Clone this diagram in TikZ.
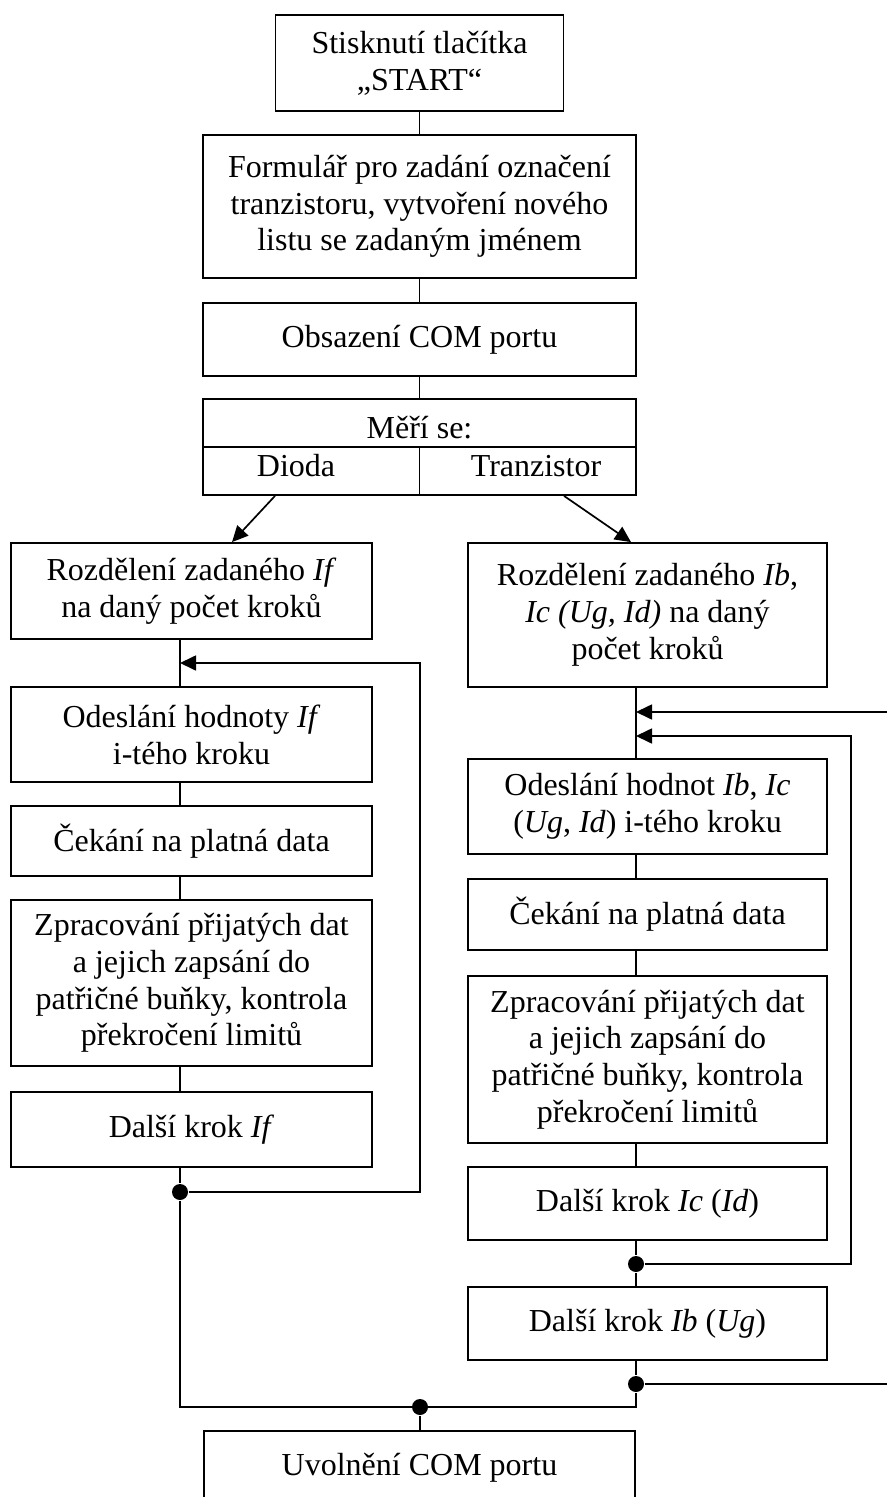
\documentclass[tikz,border=0pt]{standalone}
\usepackage{fontspec}
\setmainfont{Liberation Serif}
\usetikzlibrary{arrows.meta}

\begin{document}
\begin{tikzpicture}[x=0.5pt,y=-0.5pt,line width=0.85pt,>={Triangle[length=8pt,width=7.5pt]},
  blok/.style={draw,line width=0.9pt,align=center,inner sep=0pt,font=\fontsize{16}{18.4}\selectfont},
  popis/.style={inner sep=0pt,font=\fontsize{16}{18.4}\selectfont},
  uzel/.style={circle,fill,inner sep=0pt,minimum size=8pt}]
  \useasboundingbox (0,0) rectangle (887,1497);
  \clip (0,0) rectangle (887,1497);
  % spolecny zacatek
  \node[blok,minimum width=144pt,minimum height=48pt] (start) at (419.5,63) {Stisknutí tlačítka\\„START“};
  \node[blok,minimum width=216.5pt,minimum height=71.5pt] (form) at (419.5,206.5) {Formulář pro zadání označení\\tranzistoru, vytvoření nového\\listu se zadaným jménem};
  \node[blok,minimum width=216.5pt,minimum height=36.5pt] (obs) at (419.5,339.5) {Obsazení COM portu};
  \node[blok,minimum width=216.5pt,minimum height=48pt] (meri) at (419.5,447) {};
  \node[popis,anchor=base] (meriT) at (419.5,438) {Měří se:};
  \node[popis,anchor=base] (dioda) at (296,476) {Dioda};
  \node[popis,anchor=base] (tranz) at (536,476) {Tranzistor};
  \draw (start.south) -- (form.north);
  \draw (form.south) -- (obs.north);
  \draw (obs.south) -- (meri.north);
  \draw (meri.west) -- (meri.east);
  \draw (meri.center) -- (meri.south);
  % vetev dioda
  \node[blok,minimum width=180.5pt,minimum height=48pt] (rozdL) at (191.5,591) {Rozdělení zadaného \textit{If}\\na daný počet kroků};
  \node[blok,minimum width=180.5pt,minimum height=47.5pt] (odeslL) at (191.5,734.5) {Odeslání hodnoty \textit{If}\\i-tého kroku};
  \node[blok,minimum width=180.5pt,minimum height=35pt] (cekL) at (191.5,841) {Čekání na platná data};
  \node[blok,minimum width=180.5pt,minimum height=83pt] (zpracL) at (191.5,983) {Zpracování přijatých dat\\a jejich zapsání do\\patřičné buňky, kontrola\\překročení limitů};
  \node[blok,minimum width=180.5pt,minimum height=37.5pt] (dalsiL) at (191.5,1129.5) {Další krok \textit{If}};
  \coordinate (osL) at (180,0);
  \coordinate (vstupL) at (180,663);
  \node[uzel] (bodL) at (180,1192) {};
  \draw[->] (meri.south -| 275,0) -- (rozdL.north -| 232,0);
  \draw (rozdL.south -| osL) -- (odeslL.north -| osL);
  \draw (odeslL.south -| osL) -- (cekL.north -| osL);
  \draw (cekL.south -| osL) -- (zpracL.north -| osL);
  \draw (zpracL.south -| osL) -- (dalsiL.north -| osL);
  \draw (dalsiL.south -| osL) -- (bodL);
  \draw[->] (bodL) -- ++(240,0) |- (vstupL);
  % vetev tranzistor
  \node[blok,minimum width=179.5pt,minimum height=72pt] (rozdP) at (647.5,615) {Rozdělení zadaného \textit{Ib},\\\textit{Ic (Ug, Id)} na daný\\počet kroků};
  \node[blok,minimum width=179.5pt,minimum height=47.5pt] (odeslP) at (647.5,806.5) {Odeslání hodnot \textit{Ib}, \textit{Ic}\\(\textit{Ug}, \textit{Id}) i-tého kroku};
  \node[blok,minimum width=179.5pt,minimum height=35.5pt] (cekP) at (647.5,914.5) {Čekání na platná data};
  \node[blok,minimum width=179.5pt,minimum height=83.5pt] (zpracP) at (647.5,1059.5) {Zpracování přijatých dat\\a jejich zapsání do\\patřičné buňky, kontrola\\překročení limitů};
  \node[blok,minimum width=179.5pt,minimum height=36.5pt] (dalsiIc) at (647.5,1203.5) {Další krok \textit{Ic} (\textit{Id})};
  \node[blok,minimum width=179.5pt,minimum height=36.5pt] (dalsiIb) at (647.5,1323.5) {Další krok \textit{Ib} (\textit{Ug})};
  \coordinate (osP) at (636,0);
  \coordinate (vstupP1) at (636,712);
  \coordinate (vstupP2) at (636,736);
  \node[uzel] (bodP1) at (636,1264) {};
  \node[uzel] (bodP2) at (636,1384) {};
  \draw[->] (meri.south -| 564,0) -- (rozdP.north -| 631,0);
  \draw (rozdP.south -| osP) -- (odeslP.north -| osP);
  \draw (odeslP.south -| osP) -- (cekP.north -| osP);
  \draw (cekP.south -| osP) -- (zpracP.north -| osP);
  \draw (zpracP.south -| osP) -- (dalsiIc.north -| osP);
  \draw (dalsiIc.south -| osP) -- (bodP1) -- (dalsiIb.north -| osP);
  \draw (dalsiIb.south -| osP) -- (bodP2);
  \draw[->] (bodP1) -- ++(215,0) |- (vstupP2);
  \draw[->] (bodP2) -- ++(280,0) |- (vstupP1);
  % konec mereni
  \node[uzel] (bodS) at (420,1407) {};
  \node[blok,minimum width=215.5pt,minimum height=36.5pt] (uvol) at (419.5,1467.5) {Uvolnění COM portu};
  \draw (bodL) -- (bodL |- bodS) -- (bodP2 |- bodS) -- (bodP2);
  \draw (bodS) -- (uvol.north -| bodS);
\end{tikzpicture}
\end{document}
